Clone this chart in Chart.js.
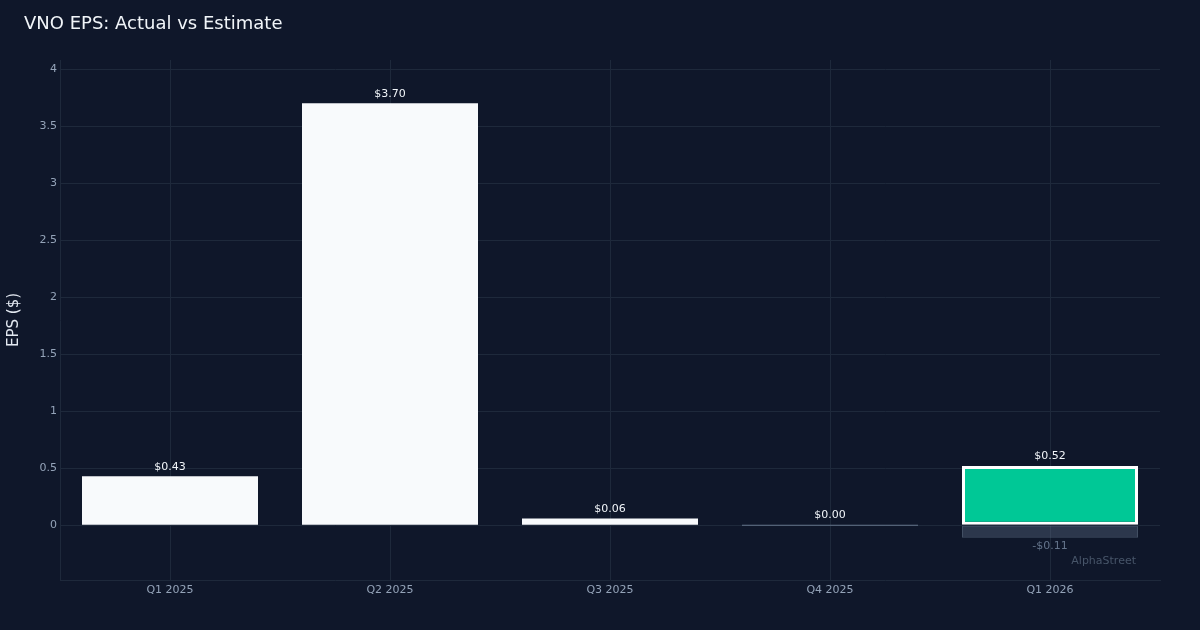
<!DOCTYPE html>
<html>
<head>
<meta charset="utf-8">
<script src="https://cdn.jsdelivr.net/npm/chart.js@4/dist/chart.umd.min.js"></script>
<style>
  html, body { margin: 0; padding: 0; background: #0f172a; }
  #wrap { width: 1200px; height: 630px; position: relative; }
</style>
</head>
<body>
<div id="wrap"><canvas id="c" width="1200" height="630"></canvas></div>
<script>
const categories = ['Q1 2025', 'Q2 2025', 'Q3 2025', 'Q4 2025', 'Q1 2026'];
const actualEPS = [0.43, 3.70, 0.06, 0.00, 0.52];
const estimateEPS = [null, null, null, null, -0.11];
const chartTitle = 'VNO EPS: Actual vs Estimate';
const yAxisTitle = 'EPS ($)';
const watermark = 'AlphaStreet';

const FONT = "'DejaVu Sans', sans-serif";
const fmt = v => (v < 0 ? '-$' : '$') + Math.abs(v).toFixed(2);
const lastIdx = categories.length - 1;

const overlay = {
  id: 'overlay',
  beforeDraw(chart) {
    const ctx = chart.ctx;
    ctx.save();
    ctx.fillStyle = '#0f172a';
    ctx.fillRect(0, 0, chart.width, chart.height);
    ctx.restore();
  },
  afterDraw(chart) {
    const ctx = chart.ctx;
    const area = chart.chartArea;
    ctx.save();
    ctx.font = '18px ' + FONT;
    ctx.fillStyle = '#f1f5f9';
    ctx.textAlign = 'left';
    ctx.textBaseline = 'middle';
    ctx.fillText(chartTitle, 24, 24);
    ctx.font = '11px ' + FONT;
    ctx.textAlign = 'center';
    const m0 = chart.getDatasetMeta(0);
    m0.data.forEach((bar, i) => {
      const v = actualEPS[i];
      if (v == null) return;
      ctx.fillStyle = '#f1f5f9';
      ctx.textBaseline = 'bottom';
      ctx.fillText(fmt(v), bar.x, Math.min(bar.y, bar.base) - 4);
    });
    const m1 = chart.getDatasetMeta(1);
    m1.data.forEach((bar, i) => {
      const v = estimateEPS[i];
      if (v == null) return;
      ctx.fillStyle = '#64748b';
      ctx.textBaseline = 'top';
      ctx.fillText(fmt(v), bar.x, Math.max(bar.y, bar.base) + 3);
    });
    ctx.font = '11px ' + FONT;
    ctx.fillStyle = '#475569';
    ctx.textAlign = 'right';
    ctx.textBaseline = 'middle';
    ctx.fillText(watermark, area.right - 24, area.bottom - 19);
    ctx.restore();
  }
};

new Chart(document.getElementById('c'), {
  type: 'bar',
  data: {
    labels: categories,
    datasets: [
      {
        label: 'Actual',
        data: actualEPS,
        order: 0,
        backgroundColor: ctx => ctx.dataIndex === lastIdx ? '#00c896' : (ctx.raw === 0 ? '#64748b' : '#f8fafc'),
        borderColor: '#ffffff',
        borderWidth: ctx => ctx.dataIndex === lastIdx ? 3 : 0,
        borderSkipped: false,
        minBarLength: 1,
        barPercentage: 0.8,
        categoryPercentage: 1.0,
        grouped: false
      },
      {
        label: 'Estimate',
        data: estimateEPS,
        order: 1,
        backgroundColor: 'rgba(100,116,139,0.35)',
        borderColor: 'rgba(100,116,139,0.6)',
        borderWidth: 1,
        borderSkipped: false,
        barPercentage: 0.8,
        categoryPercentage: 1.0,
        grouped: false
      }
    ]
  },
  options: {
    responsive: false,
    animation: false,
    devicePixelRatio: 1,
    layout: { padding: { top: 60, left: 5, right: 40, bottom: 10 } },
    plugins: {
      legend: { display: false },
      title: { display: false },
      tooltip: { enabled: false }
    },
    scales: {
      x: {
        grid: { color: '#1e293b', offset: false, drawTicks: false },
        border: { color: '#1e293b' },
        ticks: { color: '#94a3b8', font: { family: FONT, size: 11 }, padding: 4 },
        afterFit(s) { s.height = 40; }
      },
      y: {
        min: -0.48,
        max: 4.08,
        grid: { color: '#1e293b', drawTicks: false },
        border: { color: '#1e293b' },
        ticks: {
          stepSize: 0.5,
          includeBounds: false,
          color: '#94a3b8',
          font: { family: FONT, size: 11 },
          padding: 3,
          callback: v => String(+Number(v).toFixed(2))
        },
        title: {
          display: true,
          text: yAxisTitle,
          color: '#e2e8f0',
          font: { family: FONT, size: 15 },
          padding: { top: 0, bottom: 0 }
        },
        afterFit(s) { s.width = 55; }
      }
    }
  },
  plugins: [overlay]
});
</script>
</body>
</html>
